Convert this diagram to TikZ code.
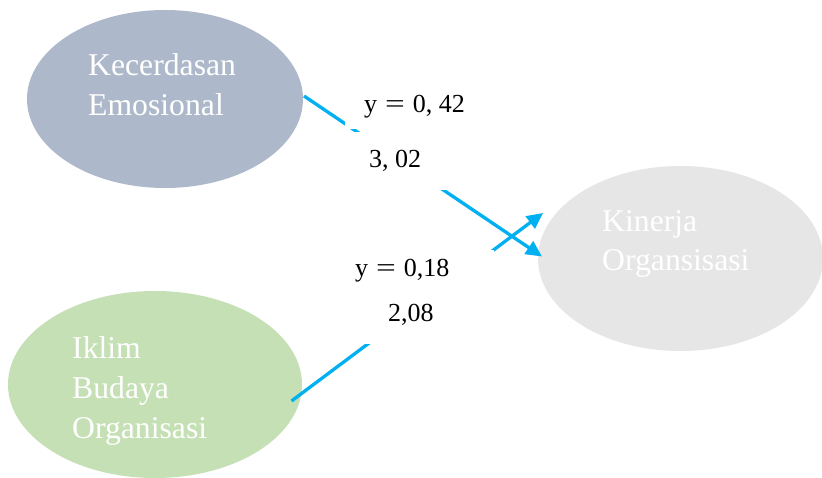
\documentclass[tikz,border=0pt]{standalone}
\usepackage{fontspec}
\setmainfont{Liberation Serif}
\usetikzlibrary{shapes.geometric,arrows.meta}
\definecolor{ecol}{HTML}{ADB9CA}
\definecolor{icol}{HTML}{C5E0B4}
\definecolor{kcol}{HTML}{E7E6E6}
\definecolor{acol}{HTML}{00B0F0}
\begin{document}
\begin{tikzpicture}[x=1pt,y=-1pt,
  oval/.style={ellipse,inner sep=0pt,draw=none},
  ovaltext/.style={anchor=base west,inner sep=0pt,text=white,font=\fontsize{31.7}{40}\selectfont},
  lbl/.style={anchor=text,fill=white,font=\fontsize{26}{30}\selectfont,text height=18pt,text depth=5pt},
  arr/.style={draw=acol,line width=3.3pt,-{Triangle[length=16pt,width=15pt,fill=acol]}}]
\useasboundingbox[fill=white] (0,0) rectangle (822,478);
% ellipses
\node[oval,fill=ecol,minimum width=276pt,minimum height=178pt] (ke) at (165,99) {};
\node[oval,fill=kcol,minimum width=285pt,minimum height=185pt] (ki) at (680.5,258.5) {};
\node[oval,fill=icol,minimum width=294pt,minimum height=187pt] (ik) at (155,384.5) {};
% ellipse texts
\node[ovaltext] (ke1) at (88,76) {Kecerdasan};
\node[ovaltext] (ke2) at (88,116) {Emosional};
\node[ovaltext] (ki1) at (602,232) {Kinerja};
\node[ovaltext] (ki2) at (602,271) {Organsisasi};
\node[ovaltext] (ik1) at (72,358) {Iklim};
\node[ovaltext] (ik2) at (72,398) {Budaya};
\node[ovaltext] (ik3) at (72,438) {Organisasi};
% connectors
\coordinate (s1) at (304,96);
\coordinate (t1) at (542,256.5);
\coordinate (s2) at (291.5,401);
\coordinate (t2) at (543,213);
\draw[arr] (s1) -- (t1);
\draw[arr] (s2) -- (t2);
% labels
\node[lbl,inner xsep=19pt,inner ysep=11pt] (l1) at (364,113) {y\hspace{8pt}\scalebox{1.35}[1]{=}\hspace{8pt}0, 42};
\node[lbl,inner xsep=30pt,inner ysep=17.5pt] (l2) at (369,168) {3, 02};
\node[lbl,inner xsep=45pt,inner ysep=9pt] (l3) at (355,277) {y\hspace{8pt}\scalebox{1.35}[1]{=}\hspace{8pt}0,18};
\node[lbl,inner xsep=25pt,inner ysep=17pt] (l4) at (388,322) {2,08};
\end{tikzpicture}
\end{document}
